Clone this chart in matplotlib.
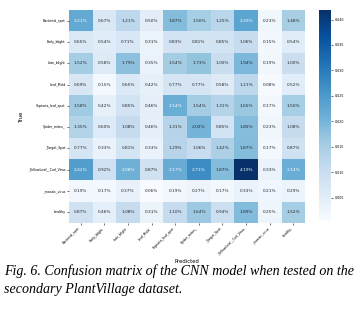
import numpy as np
import matplotlib
matplotlib.use("Agg")
import matplotlib.pyplot as plt
import seaborn as sns

labels = ["Bacterial_spot", "Early_blight", "Late_blight", "Leaf_Mold",
          "Septoria_leaf_spot", "Spider_mites_", "_Target_Spot",
          "_YellowLeaf__Curl_Virus", "_mosaic_virus", "healthy"]

row_bacterial = [2.21, 0.67, 1.21, 0.50, 1.87, 1.50, 1.25, 2.29, 0.23, 1.48]
row_early = [0.65, 0.54, 0.71, 0.31, 0.83, 0.81, 0.85, 1.06, 0.15, 0.54]
row_late = [1.52, 0.58, 1.79, 0.35, 1.54, 1.73, 1.00, 1.94, 0.19, 1.00]
row_leafmold = [0.69, 0.15, 0.65, 0.42, 0.77, 0.77, 0.58, 1.21, 0.08, 0.52]
row_septoria = [1.58, 0.42, 0.85, 0.46, 2.14, 1.54, 1.31, 1.65, 0.17, 1.50]
row_spider = [1.35, 0.60, 1.08, 0.46, 1.31, 2.02, 0.85, 1.85, 0.23, 1.08]
row_target = [0.77, 0.33, 0.81, 0.33, 1.29, 1.06, 1.42, 1.87, 0.17, 0.87]
row_yellow = [2.42, 0.92, 2.08, 0.87, 2.17, 2.71, 1.87, 4.19, 0.33, 2.14]
row_mosaic = [0.19, 0.17, 0.37, 0.06, 0.19, 0.27, 0.17, 0.33, 0.21, 0.29]
row_healthy = [0.87, 0.46, 1.08, 0.31, 1.10, 1.64, 0.94, 1.89, 0.25, 1.52]

cbar_ticks = [0.005, 0.010, 0.015, 0.020, 0.025, 0.030, 0.035, 0.040]

mat = np.array([row_bacterial, row_early, row_late, row_leafmold, row_septoria,
                row_spider, row_target, row_yellow, row_mosaic, row_healthy]) / 100.0
annot = np.array([[f"{v*100:.2f}%" for v in r] for r in mat])

fig = plt.figure(figsize=(3.59, 3.09), dpi=100)
ax = fig.add_axes([0.192, 0.278, 0.658, 0.690])
cax = fig.add_axes([0.889, 0.288, 0.033, 0.680])

sns.heatmap(mat, ax=ax, cbar_ax=cax, cmap="Blues", annot=annot, fmt="",
            annot_kws={"fontsize": 3.1}, xticklabels=labels, yticklabels=labels)

ax.tick_params(axis="both", length=1.5, width=0.4, labelsize=2.3, pad=1)
plt.setp(ax.get_xticklabels(), rotation=45, ha="right", rotation_mode="default")
plt.setp(ax.get_yticklabels(), rotation=0)
ax.set_xlabel("Predicted", fontsize=3.8, labelpad=2)
ax.set_ylabel("True", fontsize=3.8, labelpad=3)

cax.set_yticks(cbar_ticks)
cax.set_yticklabels([f"{t:.3f}" for t in cbar_ticks])
cax.tick_params(labelsize=2.3, length=1.5, width=0.4, pad=1)
for s in cax.spines.values():
    s.set_visible(False)

fig.text(0.012, 0.110, "Fig. 6. Confusion matrix of the CNN model when tested on the",
         family="Liberation Serif", style="italic", fontsize=10.1, ha="left", va="baseline")
fig.text(0.012, 0.052, "secondary PlantVillage dataset.",
         family="Liberation Serif", style="italic", fontsize=10.1, ha="left", va="baseline")

fig.savefig("out.png", dpi=100)
